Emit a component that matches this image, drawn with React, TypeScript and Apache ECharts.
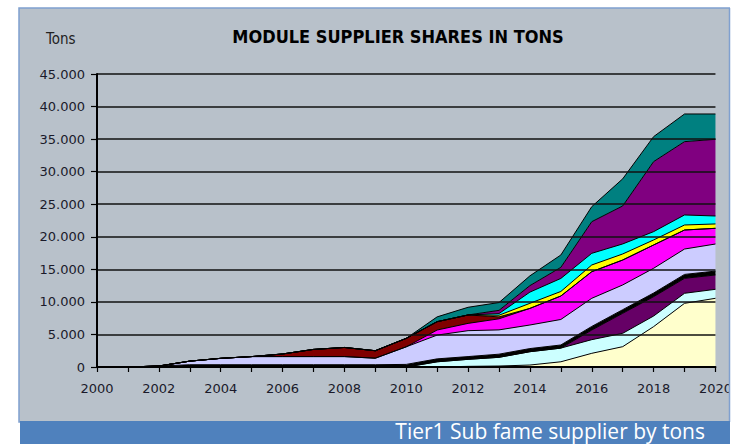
import React, { useEffect, useRef } from "react";
import * as echarts from "echarts";

const years = ["2000","2001","2002","2003","2004","2005","2006","2007","2008","2009","2010","2011","2012","2013","2014","2015","2016","2017","2018","2019","2020"];
const yTicks = [0, 5000, 10000, 15000, 20000, 25000, 30000, 35000, 40000, 45000];

const lightYellow = [0,0,0,0,0,0,0,0,0,0,0,0,100,150,300,800,2100,3120,6200,9780,10550];
const lightCyan = [0,0,0,0,0,0,0,0,0,0,0,800,1080,1340,2050,2100,2100,2050,1630,1540,1380];
const darkPurple = [0,0,0,0,0,0,0,0,0,0,0,0,0,0,0,0,1480,3080,2970,2300,2200];
const blackSeries = [0,0,150,350,350,350,350,350,350,350,400,450,420,480,480,480,550,550,560,600,600];
const lavender = [0,0,0,550,980,1250,1250,1250,1250,1000,2700,3650,3980,3730,3620,3920,4320,3800,3800,3900,4160];
const magenta = [0,0,0,0,0,0,0,0,0,0,0,780,1120,1700,2550,3600,4090,3830,3580,2920,2410];
const maroon = [0,0,0,0,0,0,400,1100,1400,1150,1300,1280,1290,300,0,0,0,0,0,0,0];
const yellow = [0,0,0,0,0,0,0,0,0,0,0,0,0,250,780,700,1030,930,770,770,670];
const cyan = [0,0,0,0,0,0,0,0,0,0,0,0,0,250,1720,2000,1790,1540,1280,1540,1220];
const purple = [0,0,0,0,0,0,0,0,0,0,0,0,0,500,1000,1700,4860,5830,10750,11260,11780];
const teal = [0,0,0,0,0,0,0,0,0,0,0,740,1180,1200,1500,1900,2310,4170,3840,4250,3890];

const layers = [
  { name: "S1", data: lightYellow, color: "#FFFFCC" },
  { name: "S2", data: lightCyan, color: "#CCFFFF" },
  { name: "S3", data: darkPurple, color: "#660066" },
  { name: "S4", data: blackSeries, color: "#000000" },
  { name: "S5", data: lavender, color: "#CCCCFF" },
  { name: "S6", data: magenta, color: "#FF00FF" },
  { name: "S7", data: maroon, color: "#800000" },
  { name: "S8", data: yellow, color: "#FFFF00" },
  { name: "S9", data: cyan, color: "#00FFFF" },
  { name: "S10", data: purple, color: "#800080" },
  { name: "S11", data: teal, color: "#008080" },
];

const fmt = (v: number) => {
  if (v === 0) return "0";
  const s = String(Math.round(v));
  return s.replace(/\B(?=(\d{3})+(?!\d))/g, ".");
};

export default function App() {
  const ref = useRef<HTMLDivElement>(null);
  useEffect(() => {
    document.body.style.margin = "0";
    const chart = echarts.init(ref.current!, null, { renderer: "svg" });
    const axisFont = "'DejaVu Sans', Verdana, sans-serif";
    chart.setOption({
      animation: false,
      backgroundColor: "#ffffff",
      grid: { left: 97, right: 11, top: 74, bottom: 77, containLabel: false },
      xAxis: {
        type: "category",
        data: years,
        boundaryGap: false,
        axisLine: { show: true, lineStyle: { color: "#000", width: 2 } },
        axisTick: { show: true, interval: 0, length: 5, lineStyle: { color: "#000", width: 1.2 } },
        axisLabel: { interval: 1, color: "#1a1a2a", fontSize: 13, fontFamily: axisFont, margin: 15 },
        splitLine: { show: false },
        z: 10,
      },
      yAxis: {
        type: "value",
        min: yTicks[0],
        max: yTicks[yTicks.length - 1],
        interval: 5000,
        axisLine: { show: true, lineStyle: { color: "#000", width: 2 } },
        axisTick: { show: true, length: 6, lineStyle: { color: "#000", width: 1.2 } },
        axisLabel: { color: "#1a1a2a", fontSize: 13, fontFamily: axisFont, margin: 12, formatter: (v: number) => fmt(v) },
        splitLine: { show: true, lineStyle: { color: "#111", width: 1.5 } },
        z: 10,
      },
      series: layers.map((l) => ({
        name: l.name,
        type: "line",
        stack: "total",
        data: l.data,
        symbol: "none",
        smooth: false,
        lineStyle: { color: "#000", width: 1 },
        itemStyle: { color: l.color },
        areaStyle: { color: l.color, opacity: 1 },
      })),
      graphic: [
        { type: "rect", z: -10, shape: { x: 19, y: 8, width: 711, height: 414 }, style: { fill: "#B8C1CA", stroke: "#7FA0CF", lineWidth: 1.5 } },
        { type: "text", z: 20, x: 46, y: 39, style: { text: "Tons", fill: "#222", font: "15px 'DejaVu Sans Condensed', 'Liberation Sans Narrow', sans-serif", textVerticalAlign: "middle" } },
        { type: "text", z: 20, x: 398, y: 36, style: { text: "MODULE SUPPLIER SHARES IN TONS", fill: "#000", font: "bold 18px 'DejaVu Sans Condensed', 'Liberation Sans Narrow', sans-serif", textAlign: "center", textVerticalAlign: "middle" } },
        { type: "rect", z: 50, shape: { x: 730, y: 0, width: 10, height: 444 }, style: { fill: "#ffffff" } },
        { type: "line", z: 51, shape: { x1: 729.5, y1: 8, x2: 729.5, y2: 422 }, style: { stroke: "#7FA0CF", lineWidth: 1.5 } },
        { type: "rect", z: 52, shape: { x: 20, y: 421, width: 710, height: 23 }, style: { fill: "#4F81BD" } },
        { type: "text", z: 53, x: 705, y: 431, style: { text: "Tier1 Sub fame supplier by tons", fill: "#ffffff", font: "21px 'Open Sans', 'Noto Sans', sans-serif", textAlign: "right", textVerticalAlign: "middle" } },
      ],
    });
    return () => chart.dispose();
  }, []);
  return <div ref={ref} style={{ width: 735, height: 444 }} />;
}
